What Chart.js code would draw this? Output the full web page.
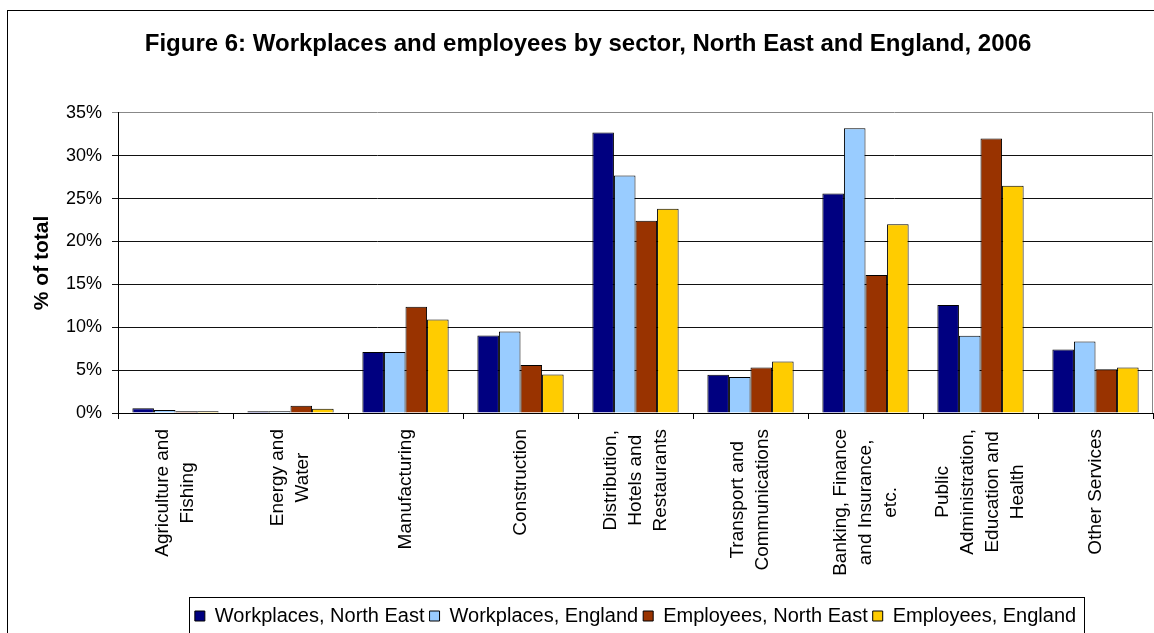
<!DOCTYPE html>
<html>
<head>
<meta charset="utf-8">
<script src="https://cdn.jsdelivr.net/npm/chart.js@4.4.0/dist/chart.umd.min.js"></script>
<style>
  html, body { margin: 0; padding: 0; overflow: hidden; background: #fff; }
  canvas { display: block; }
</style>
</head>
<body>
<canvas id="sectorChart" width="1176" height="636"></canvas>
<script>
const sectors = [
  ['Agriculture and', 'Fishing'],
  ['Energy and', 'Water'],
  ['Manufacturing'],
  ['Construction'],
  ['Distribution,', 'Hotels and', 'Restaurants'],
  ['Transport and', 'Communications'],
  ['Banking, Finance', 'and Insurance,', 'etc.'],
  ['Public', 'Administration,', 'Education and', 'Health'],
  ['Other Services']
];
const workplacesNE  = [0.55, 0.2, 7.1, 9.05, 32.7, 4.45, 25.6, 12.6, 7.4];
const workplacesEng = [0.35, 0.2, 7.1, 9.5, 27.7, 4.2, 33.2, 9.0, 8.35];
const employeesNE   = [0.2, 0.85, 12.4, 5.6, 22.4, 5.3, 16.1, 32.0, 5.1];
const employeesEng  = [0.2, 0.5, 10.9, 4.5, 23.8, 6.0, 22.0, 26.5, 5.3];
const yMax = 35;
const yStep = 5;

const FONT = '"Liberation Sans", Arial, sans-serif';

// outer frame, plot border, legend box and the centred sector labels
const decorations = {
  id: 'decorations',
  beforeDraw(chart) {
    const ctx = chart.ctx;
    ctx.save();
    ctx.fillStyle = '#fff';
    ctx.fillRect(0, 0, chart.width, chart.height);
    ctx.strokeStyle = '#000';
    ctx.lineWidth = 1;
    ctx.strokeRect(7.5, 10.5, 1400, 800);
    ctx.restore();
  },
  afterDraw(chart) {
    const {ctx, chartArea, scales: {x}} = chart;
    ctx.save();
    ctx.strokeStyle = '#888';
    ctx.lineWidth = 1;
    ctx.beginPath();
    ctx.moveTo(Math.round(chartArea.right) - 0.5, chartArea.top);
    ctx.lineTo(Math.round(chartArea.right) - 0.5, chartArea.bottom);
    ctx.stroke();

    ctx.font = '19px ' + FONT;
    ctx.fillStyle = '#000';
    ctx.textAlign = 'center';
    ctx.textBaseline = 'middle';
    const top = x.top + 16;
    const lineGap = 25;
    sectors.forEach((lines, i) => {
      const cx = x.getPixelForTick(i);
      const longest = Math.max(...lines.map(l => ctx.measureText(l).width));
      lines.forEach((line, j) => {
        ctx.save();
        ctx.translate(cx + (j - (lines.length - 1) / 2) * lineGap, top + longest / 2);
        ctx.rotate(-Math.PI / 2);
        ctx.fillText(line, 0, 0);
        ctx.restore();
      });
    });

    const boxes = chart.legend.legendHitBoxes;
    if (boxes && boxes.length) {
      const first = boxes[0];
      const last = boxes[boxes.length - 1];
      const mid = first.top + first.height / 2;
      const left = Math.round(first.left - 6) + 0.5;
      const right = Math.round(last.left + last.width + 8) + 0.5;
      const boxTop = Math.round(mid - 19) + 0.5;
      ctx.strokeStyle = '#000';
      ctx.strokeRect(left, boxTop, right - left, 200);
    }
    ctx.restore();
  }
};

new Chart(document.getElementById('sectorChart'), {
  type: 'bar',
  data: {
    labels: sectors,
    datasets: [
      { label: 'Workplaces, North East', data: workplacesNE, backgroundColor: '#000080' },
      { label: 'Workplaces, England', data: workplacesEng, backgroundColor: '#99ccff' },
      { label: 'Employees, North East', data: employeesNE, backgroundColor: '#993300' },
      { label: 'Employees, England', data: employeesEng, backgroundColor: '#ffcc00' }
    ].map(d => Object.assign(d, {
      borderColor: '#000',
      borderWidth: 1,
      categoryPercentage: 0.75,
      barPercentage: 1.0
    }))
  },
  options: {
    responsive: false,
    animation: false,
    layout: { padding: 0 },
    plugins: {
      title: {
        display: true,
        text: 'Figure 6: Workplaces and employees by sector, North East and England, 2006',
        color: '#000',
        font: { family: FONT, size: 24, weight: 'bold' },
        padding: { top: 30, bottom: 54 }
      },
      legend: {
        position: 'bottom',
        fullSize: false,
        labels: {
          color: '#000',
          font: { family: FONT, size: 20 },
          boxWidth: 10,
          boxHeight: 10,
          padding: 5
        }
      },
      tooltip: { enabled: false }
    },
    scales: {
      x: {
        grid: {
          drawOnChartArea: false,
          drawTicks: true,
          tickLength: 6,
          color: '#000',
          offset: true
        },
        border: { display: true, color: '#000' },
        ticks: { display: false },
        afterFit(scale) { scale.height = 188; }
      },
      y: {
        min: 0,
        max: yMax,
        grid: {
          color: c => (c.tick && c.tick.value === yMax ? '#888' : '#111'),
          tickLength: 6
        },
        border: { display: true, color: '#000' },
        ticks: {
          stepSize: yStep,
          color: '#000',
          padding: 10,
          font: { family: FONT, size: 18 },
          callback: v => v + '%'
        },
        title: {
          display: true,
          text: '% of total',
          color: '#000',
          font: { family: FONT, size: 21, weight: 'bold' },
          padding: { top: 30, bottom: 10 }
        },
        afterFit(scale) { scale.width = 118; }
      },
      pad: {
        type: 'linear',
        position: 'right',
        min: 0,
        max: 1,
        grid: { display: false },
        border: { display: false },
        ticks: { display: false },
        afterFit(scale) { scale.width = 23; }
      }
    }
  },
  plugins: [decorations]
});
</script>
</body>
</html>
